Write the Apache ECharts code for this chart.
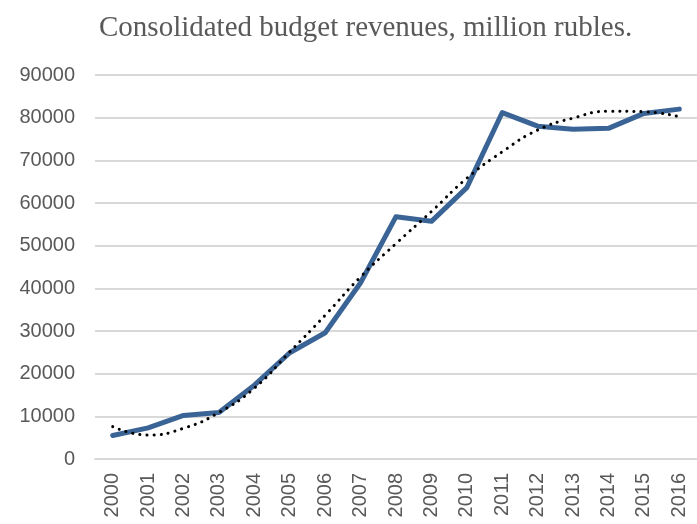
<!DOCTYPE html>
<html>
<head>
<meta charset="utf-8">
<script src="https://cdn.jsdelivr.net/npm/echarts@6/dist/echarts.min.js"></script>
<style>html,body{margin:0;padding:0;background:#fff}#c{width:697px;height:524px}</style>
</head>
<body>
<div id="c"></div>
<script>
const years = ['2000','2001','2002','2003','2004','2005','2006','2007','2008','2009','2010','2011','2012','2013','2014','2015','2016'];
const revenues = [5500, 7300, 10200, 10900, 17300, 24900, 29600, 41300, 56800, 55700, 63600, 81200, 78000, 77300, 77500, 81000, 82000];
const trend = [7600, 5600, 7200, 10900, 16600, 25100, 33700, 42700, 50500, 58000, 65800, 72000, 77100, 79900, 81500, 81400, 80200];
const yTicks = {min: 0, max: 90000, interval: 10000};
const titleText = 'Consolidated budget revenues, million rubles.';

const chart = echarts.init(document.getElementById('c'));
chart.setOption({
  animation: false,
  title: {
    text: titleText, left: 94, top: 9,
    textStyle: {fontFamily: 'Liberation Serif, Times New Roman, serif', fontWeight: 'normal', fontSize: 29, color: '#595959'}
  },
  grid: {left: 95, top: 75, height: 384, right: -10, containLabel: false},
  xAxis: {
    type: 'category', data: years, boundaryGap: true,
    axisLine: {show: true, lineStyle: {color: '#d9d9d9', width: 2}},
    axisTick: {show: false},
    axisLabel: {rotate: 90, margin: 14, fontSize: 20, color: '#595959', fontFamily: 'Liberation Sans, Arial, sans-serif', interval: 0}
  },
  yAxis: {
    type: 'value', min: yTicks.min, max: yTicks.max, interval: yTicks.interval,
    axisLine: {show: false}, axisTick: {show: false},
    splitLine: {lineStyle: {color: '#d9d9d9', width: 2}},
    axisLabel: {margin: 20, fontSize: 20, color: '#595959', fontFamily: 'Liberation Sans, Arial, sans-serif', formatter: v => String(v)}
  },
  series: [
    {type: 'line', data: revenues, symbol: 'none', lineStyle: {color: '#3A6496', width: 5, cap: 'round', join: 'round'}, z: 2},
    {type: 'line', data: trend, symbol: 'none', smooth: true, lineStyle: {color: '#000', width: 3, type: [0.1, 7], cap: 'round'}, z: 3}
  ]
});
</script>
</body>
</html>
